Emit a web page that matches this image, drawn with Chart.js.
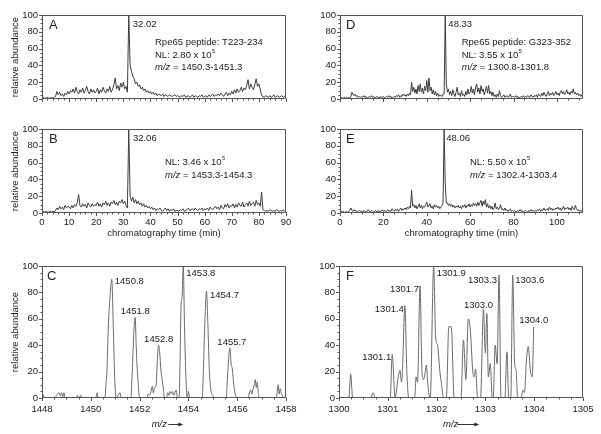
<!DOCTYPE html>
<html><head><meta charset="utf-8">
<script src="https://cdn.jsdelivr.net/npm/chart.js@4/dist/chart.umd.min.js"></script>
<style>
html,body{margin:0;padding:0;background:#fff;}
#wrap{position:relative;width:601px;height:434px;overflow:hidden;background:#fff;}
canvas{position:absolute;}
</style></head><body><div id="wrap">
<canvas id="cA"></canvas><canvas id="cB"></canvas><canvas id="cC"></canvas>
<canvas id="cD"></canvas><canvas id="cE"></canvas><canvas id="cF"></canvas>
</div>
<script>
// ---------- DATA ----------
// chromatograms: one reading every 0.5 min, starting at 0 min
const timeStep = 0.5;
const abundanceA = [
 1,2,1,1,2,1,1,2,1,2, 3,9,5,8,4,6,3,7,5,9,
 6,10,8,12,7,14,9,6,11,8, 13,7,10,15,9,6,12,8,11,7,
 9,13,6,11,8,14,10,7,12,9, 15,8,11,17,25,12,16,10,19,14,
 20,12,15,8,100,40,33,27,24,18, 20,15,17,12,14,10,12,8,10,7,
 9,6,8,5,7,4,6,5,4,6, 3,5,4,3,5,4,3,4,5,3,
 4,3,2,4,3,5,2,3,4,2, 3,5,2,4,3,2,4,3,5,2,
 3,4,2,5,3,4,6,3,5,4, 6,4,7,5,3,6,8,4,7,5,
 9,6,11,7,12,8,10,14,9,13, 11,16,23,12,18,14,11,17,24,15,
 18,12,4,3,2,4,3,2,4,2, 3,5,2,3,4,2,3,4,2,3,
 2];
const abundanceB = [
 1,2,1,2,1,1,2,1,2,1, 3,6,4,8,5,7,4,9,6,8,
 7,5,9,6,10,8,12,22,9,7, 11,8,10,6,12,9,7,11,8,10,
 9,13,8,11,7,12,10,14,9,12, 8,13,11,15,10,13,9,14,12,16,
 11,14,9,6,100,20,14,19,12,16, 11,14,10,12,8,11,7,9,6,8,
 5,7,4,6,3,5,4,6,3,2, 4,6,3,5,2,4,3,5,2,3,
 3,2,4,3,5,2,3,4,6,3, 4,5,3,6,4,3,5,4,6,3,
 5,4,6,3,7,5,4,6,8,5, 7,4,9,6,5,10,7,11,6,9,
 8,11,6,10,7,12,9,8,13,7, 10,12,8,14,9,11,13,8,15,10,
 12,8,25,4,3,2,3,2,4,3, 2,3,2,4,3,2,3,2,4,2,
 3];
const abundanceD = [
 1,2,1,1,2,1,2,1,2,1, 3,8,5,4,6,3,4,2,3,2,
 3,2,4,2,3,1,2,3,2,4, 2,3,1,2,3,2,1,3,2,2,
 3,1,2,3,2,4,2,3,1,2, 3,2,4,3,5,2,4,3,6,4,
 5,3,6,4,7,5,20,9,14,7, 12,6,16,9,18,8,13,6,15,10,
 22,8,25,10,14,6,11,5,9,4, 7,3,5,4,3,6,6,100,18,8,
 12,5,9,4,11,6,3,8,14,5, 7,3,10,4,6,3,9,5,12,6,
 8,15,7,12,5,14,18,8,13,6, 16,9,12,5,10,15,7,16,6,9,
 4,8,3,5,2,6,3,10,4,2, 3,5,2,3,4,2,3,6,2,3,
 3,2,4,2,3,1,2,3,2,4, 2,3,2,4,3,2,5,3,2,4,
 3,5,2,6,4,3,7,4,8,5, 3,6,9,4,7,5,8,4,6,9,
 5,7,4,8,10,6,9,5,7,11, 6,8,5,9,7,12,6,8,5,7,
 4,6,3,5,2];
const abundanceE = [
 1,2,1,2,1,1,2,1,2,3, 6,3,2,4,2,3,1,2,3,2,
 2,1,3,2,1,2,4,2,1,3, 2,1,2,3,1,2,3,1,2,4,
 2,3,1,2,4,2,3,2,5,3, 2,4,3,5,2,4,6,3,5,4,
 6,4,7,5,8,6,27,8,10,6, 9,5,8,11,6,9,5,8,7,10,
 13,7,9,11,6,8,5,10,7,9, 6,8,5,7,9,12,100,35,12,12,
 9,11,8,10,7,9,6,8,7,9, 6,8,5,9,7,10,6,9,8,11,
 7,10,8,12,9,11,8,13,9,12, 15,8,14,10,16,7,11,6,9,5,
 8,4,6,12,5,7,4,6,10,4, 5,3,6,3,4,2,3,5,2,3,
 2,3,1,2,3,2,4,2,3,1, 2,3,2,1,3,2,4,2,3,2,
 3,2,4,3,5,2,4,3,6,3, 4,5,3,7,4,6,3,5,4,6,
 5,7,4,6,3,5,8,4,6,5, 7,4,6,3,8,5,4,9,5,3,
 4,2,3,2,1];

// mass spectra
const mzC = [
 1448.0,1448.03,1448.08,1448.5,1448.6,1448.7,1448.75,1448.8,1448.85,1448.9,1448.95,
 1449.4,1449.45,1449.5,1449.6,1449.65,1450.2,1450.26,1450.3,
 1450.58,1450.62,1450.66,1450.72,1450.8,1450.86,1450.92,1450.98,1451.04,1451.15,1451.2,1451.25,
 1451.64,1451.7,1451.76,1451.82,1451.86,1451.88,1451.94,1452.0,
 1452.3,1452.35,1452.4,1452.48,1452.52,1452.56,1452.62,1452.68,1452.73,1452.78,1452.82,1452.88,1452.94,1452.98,1453.02,
 1453.1,1453.15,1453.2,1453.25,1453.3,1453.35,1453.4,1453.5,1453.55,
 1453.62,1453.66,1453.7,1453.74,1453.79,1453.84,1453.9,1453.96,1454.0,1454.05,
 1454.57,1454.62,1454.68,1454.74,1454.8,1454.86,1454.93,1455.0,1455.05,
 1455.55,1455.6,1455.65,1455.7,1455.75,1455.8,1455.86,1455.92,1456.0,
 1456.45,1456.5,1456.55,1456.6,1456.65,1456.7,1456.74,1456.78,1456.82,1456.86,1456.9,
 1457.6,1457.68,1457.72,1457.76,1457.8,1457.85,1457.9,1458.0];
const intC = [
 0,3,0,0,2,4,2,4,1,4,0,
 0,2,0,2,0,0,4,0,
 0,10,20,55,80,90,55,15,0,3,4,0,
 0,20,48,61,40,30,12,0,
 0,3,2,6,9,4,8,10,30,40,35,20,12,6,0,
 0,4,2,5,3,5,2,6,0,
 0,30,70,76,100,55,15,0,5,0,
 0,25,60,81,55,20,5,2,0,
 0,15,30,38,26,22,10,3,0,
 0,4,6,3,7,10,14,8,12,5,0,
 0,10,3,7,4,2,0,0];
const mzF = [
 1300.0,1300.2,1300.24,1300.28,1300.65,1300.7,1300.74,
 1301.05,1301.09,1301.15,1301.21,1301.25,1301.28,1301.3,1301.35,1301.39,1301.43,
 1301.55,1301.58,1301.61,1301.66,1301.7,1301.73,1301.76,1301.79,1301.82,1301.87,
 1301.94,1301.98,1302.02,1302.07,1302.1,1302.14,
 1302.2,1302.25,1302.3,1302.36,
 1302.5,1302.55,1302.6,1302.65,1302.69,1302.74,1302.77,1302.8,1302.84,
 1302.9,1302.96,1303.0,1303.03,1303.06,1303.1,1303.14,
 1303.16,1303.2,1303.24,1303.28,1303.32,
 1303.4,1303.44,1303.48,
 1303.52,1303.56,1303.6,1303.63,1303.66,
 1303.73,1303.77,1303.8,1303.84,1303.88,1303.92,1303.96,1303.99];
const intF = [
 0,0,18,0,0,4,0,
 0,33,0,15,21,12,20,70,20,0,
 0,16,12,85,20,14,18,25,10,0,
 100,46,40,19,11,0,
 0,54,54,0,
 0,44,14,60,52,21,16,22,0,
 0,67,34,64,16,26,0,
 0,40,26,93,0,
 0,35,0,
 0,93,26,21,0,
 0,6,4,28,39,21,16,54];

// peak labels
const peakLabelsC = ['1450.8','1451.8','1452.8','1453.8','1454.7','1455.7'];
const peakMzC     = [1450.86,1451.82,1452.78,1453.79,1454.74,1455.7];
const peakIntC    = [90,61,40,100,81,38];
const peakLabelsF = ['1301.1','1301.4','1301.7','1301.9','1303.0','1303.3','1303.6','1304.0'];
const peakMzF     = [1301.09,1301.35,1301.66,1301.94,1302.96,1303.28,1303.56,1303.99];
const peakIntF    = [33,70,85,100,67,93,93,54];
// chromatogram apex labels
const apexTimes = {A: 32.02, B: 32.06, D: 48.33, E: 48.06};

// ---------- STYLE / HELPERS ----------
const FONT = '"Liberation Sans", Arial, Helvetica, sans-serif';
Chart.defaults.font.family = FONT;
Chart.defaults.font.size = 9.5;
Chart.defaults.color = '#222';

function fontStr(size, italic) { return (italic ? 'italic ' : '') + size + 'px ' + FONT; }
function drawRich(ctx, parts, x, y, align, size) {
  const sz = p => p[1] === 's' ? size * 0.6 : size;
  const widths = parts.map(p => { ctx.font = fontStr(sz(p), p[1] === 'i'); return ctx.measureText(p[0]).width; });
  const total = widths.reduce((a, b) => a + b, 0);
  let cx = align === 'center' ? x - total / 2 : align === 'right' ? x - total : x;
  ctx.textAlign = 'left'; ctx.textBaseline = 'middle'; ctx.fillStyle = '#222';
  parts.forEach((p, i) => {
    const sup = p[1] === 's';
    ctx.font = fontStr(sz(p), p[1] === 'i');
    ctx.fillText(p[0], cx + (sup ? 0.6 : 0), sup ? y - size * 0.4 : y);
    cx += widths[i] + (sup ? 0.6 : 0);
  });
}

// per-chart decoration settings, kept outside Chart.js option proxies
const decorCfg = {};

const decor = {
  id: 'decor',
  afterDraw(chart) {
    const o = decorCfg[chart.canvas.id];
    const ctx = chart.ctx, ca = chart.chartArea, sx = chart.scales.x, sy = chart.scales.y;
    const L = Math.round(ca.left) + 0.5, R = Math.round(ca.right) - 0.5;
    const T = Math.round(ca.top) + 0.5, B = Math.round(ca.bottom) - 0.5;
    ctx.save();
    ctx.lineWidth = 1; ctx.strokeStyle = '#555';
    ctx.beginPath();
    ctx.rect(L, T, R - L, B - T);
    sx.ticks.forEach(t => { const p = Math.round(sx.getPixelForValue(t.value)) + 0.5; ctx.moveTo(p, B); ctx.lineTo(p, B + 3.5); });
    for (let i = 0; ; i++) {
      const v = sx.min + i * o.minorX; if (v > sx.max + 1e-9) break;
      const p = Math.round(sx.getPixelForValue(v)) + 0.5; ctx.moveTo(p, B); ctx.lineTo(p, B + 2);
    }
    sy.ticks.forEach(t => { const p = Math.round(sy.getPixelForValue(t.value)) + 0.5; ctx.moveTo(L, p); ctx.lineTo(L - 3.5, p); });
    for (let i = 0; ; i++) {
      const v = sy.min + i * o.minorY; if (v > sy.max + 1e-9) break;
      const p = Math.round(sy.getPixelForValue(v)) + 0.5; ctx.moveTo(L, p); ctx.lineTo(L - 2, p);
    }
    ctx.stroke();
    (o.texts || []).forEach(t => {
      let x, y;
      if (t.at) { x = sx.getPixelForValue(t.at[0]) + (t.dx || 0); y = sy.getPixelForValue(t.at[1]) + (t.dy || 0); }
      else { x = ca.left + t.rel[0]; y = ca.top + t.rel[1]; }
      drawRich(ctx, t.p, x, y, t.align || 'left', t.size || 9.5);
    });
    if (o.arrow) {
      const [x1, x2, yy] = o.arrow;
      const ax1 = ca.left + x1, ax2 = ca.left + x2, ay = Math.round(ca.top + yy) + 0.5;
      ctx.strokeStyle = '#333'; ctx.fillStyle = '#333';
      ctx.beginPath(); ctx.moveTo(ax1, ay); ctx.lineTo(ax2 - 4, ay); ctx.stroke();
      ctx.beginPath(); ctx.moveTo(ax2, ay); ctx.lineTo(ax2 - 5, ay - 2); ctx.lineTo(ax2 - 5, ay + 2); ctx.closePath(); ctx.fill();
    }
    ctx.restore();
  }
};

function makeChart(id, c) {
  const padT = 10, padR = 16;
  decorCfg[id] = { minorX: c.minorX, minorY: 5, texts: c.texts, arrow: c.arrow };
  const cv = document.getElementById(id);
  const left = c.box[0] - c.yW, top = c.box[1] - padT;
  const w = c.box[2] + padR - left, h = c.box[3] + c.xH - top;
  cv.width = w; cv.height = h;
  cv.style.left = left + 'px'; cv.style.top = top + 'px';
  cv.style.width = w + 'px'; cv.style.height = h + 'px';
  return new Chart(cv, {
    type: 'line',
    data: { datasets: [{ data: c.points, borderColor: c.lineColor, borderWidth: 1, pointRadius: 0, fill: false,
      tension: 0, cubicInterpolationMode: c.smooth ? 'monotone' : 'default' }] },
    options: {
      responsive: false, maintainAspectRatio: false, animation: false, events: [],
      layout: { padding: { top: padT, right: padR, left: 0, bottom: 0 } },
      plugins: { legend: { display: false }, tooltip: { enabled: false } },
      scales: {
        x: { type: 'linear', min: c.xMin, max: c.xMax,
          grid: { display: false, drawTicks: false }, border: { display: false },
          ticks: { display: c.xLabels, stepSize: c.xStep, includeBounds: false, autoSkip: false, maxRotation: 0,
            padding: c.xPad || 3, color: '#222', callback: v => String(v) },
          title: c.xTitle ? { display: true, text: c.xTitle, color: '#222', font: { size: 9.5 }, padding: { top: 0, bottom: c.xTitlePad } } : { display: false },
          afterFit: s => { s.height = c.xH; s.paddingLeft = 0; s.paddingRight = 0; } },
        y: { min: 0, max: 100,
          grid: { display: false, drawTicks: false }, border: { display: false },
          ticks: { stepSize: 20, padding: 4, color: '#222', callback: v => String(v) },
          title: c.yTitle ? { display: true, text: 'relative abundance', color: '#222', font: { size: 9.5 }, padding: { top: 10, bottom: 0 } } : { display: false },
          afterFit: s => { s.width = c.yW; s.paddingTop = 0; s.paddingBottom = 0; } }
      }
    },
    plugins: [decor]
  });
}

const chromPoints = arr => arr.map((v, i) => ({ x: i * timeStep, y: v }));
const specPoints = (mz, it) => mz.map((m, i) => ({ x: m, y: it[i] }));
const NL = (v) => [['NL: ' + v + ' x 10'], ['5', 's']];
const MZ = (r) => [['m/z', 'i'], [' = ' + r]];
const lbl = (labels, mz, it, st) => labels.map((t, i) => ({ p: [[t]], at: [mz[i], it[i]], align: st[i][0], dx: st[i][1], dy: st[i][2] }));

makeChart('cA', { box: [42, 15, 286, 99], yW: 42, xH: 6, xMin: 0, xMax: 90, xStep: 10, minorX: 2, xLabels: false,
  yTitle: true, points: chromPoints(abundanceA), lineColor: '#3c3c3c',
  texts: [
    { p: [['A']], rel: [7, 10], size: 13 },
    { p: [[String(apexTimes.A)]], at: [apexTimes.A, 100], dx: 4, dy: 9 },
    { p: [['Rpe65 peptide: T223-234']], rel: [113, 27.5] },
    { p: NL('2.80'), rel: [113, 40] },
    { p: MZ('1450.3-1451.3'), rel: [113, 52.5] } ] });

makeChart('cB', { box: [42, 129, 286, 213], yW: 42, xH: 30, xMin: 0, xMax: 90, xStep: 10, minorX: 2, xLabels: true, xPad: 3.5,
  xTitle: 'chromatography time (min)', xTitlePad: 4.3,
  yTitle: true, points: chromPoints(abundanceB), lineColor: '#3c3c3c',
  texts: [
    { p: [['B']], rel: [7, 10], size: 13 },
    { p: [[String(apexTimes.B)]], at: [apexTimes.B, 100], dx: 4, dy: 9 },
    { p: NL('3.46'), rel: [123, 33] },
    { p: MZ('1453.3-1454.3'), rel: [123, 46] } ] });

makeChart('cC', { box: [42, 266, 286, 398], yW: 42, xH: 34, xMin: 1448, xMax: 1458, xStep: 2, minorX: 0.5, xLabels: true, xPad: 6,
  yTitle: true, smooth: true, points: specPoints(mzC, intC), lineColor: '#6a6a6a',
  arrow: [126.3, 141.3, 158],
  texts: [
    { p: [['C']], rel: [5, 10.7], size: 13 },
    { p: [['m/z', 'i']], rel: [109.7, 158] },
    ...lbl(peakLabelsC, peakMzC, peakIntC, [['left',3,2.5],['center',0,-6.5],['center',0,-6],['left',3,7],['left',3.5,4],['center',2,-5]]) ] });

makeChart('cD', { box: [340, 15, 583, 99], yW: 40, xH: 6, xMin: 0, xMax: 112, xStep: 20, minorX: 5, xLabels: false,
  points: chromPoints(abundanceD), lineColor: '#3c3c3c',
  texts: [
    { p: [['D']], rel: [6, 10], size: 13 },
    { p: [[String(apexTimes.D)]], at: [apexTimes.D, 100], dx: 3.5, dy: 9 },
    { p: [['Rpe65 peptide: G323-352']], rel: [121.7, 27.5] },
    { p: NL('3.55'), rel: [121.7, 40] },
    { p: MZ('1300.8-1301.8'), rel: [121.7, 52.5] } ] });

makeChart('cE', { box: [340, 129, 583, 213], yW: 40, xH: 30, xMin: 0, xMax: 112, xStep: 20, minorX: 5, xLabels: true, xPad: 3.5,
  xTitle: 'chromatography time (min)', xTitlePad: 4.3,
  points: chromPoints(abundanceE), lineColor: '#3c3c3c',
  texts: [
    { p: [['E']], rel: [6, 10], size: 13 },
    { p: [[String(apexTimes.E)]], at: [apexTimes.E, 100], dx: 2, dy: 9 },
    { p: NL('5.50'), rel: [130, 33] },
    { p: MZ('1302.4-1303.4'), rel: [130, 46] } ] });

makeChart('cF', { box: [339, 266, 583, 398], yW: 39, xH: 34, xMin: 1300, xMax: 1305, xStep: 1, minorX: 0.25, xLabels: true, xPad: 6,
  smooth: true, points: specPoints(mzF, intF), lineColor: '#6a6a6a',
  arrow: [118.3, 140.3, 158],
  texts: [
    { p: [['F']], rel: [7, 10.7], size: 13 },
    { p: [['m/z', 'i']], rel: [104, 158] },
    ...lbl(peakLabelsF, peakMzF, peakIntF, [['right',-1,3],['right',-1,4],['right',-1,3.5],['left',3,7],['center',-5,-4],['right',-2,5],['left',2.5,5],['center',0,-6]]) ] });
</script>
</body></html>
